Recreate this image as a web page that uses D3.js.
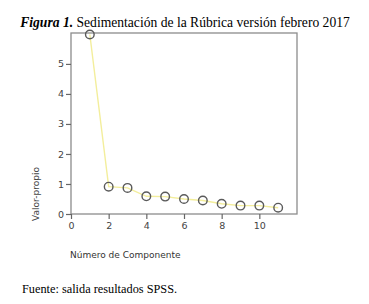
<!DOCTYPE html>
<html>
<head>
<meta charset="utf-8">
<script src="https://cdn.jsdelivr.net/npm/d3@7"></script>
<style>
  body { margin: 0; background: #fff; }
  svg { display: block; }
</style>
</head>
<body>
<svg id="chart" width="369" height="304"></svg>
<script>
// scree plot data (eigenvalues per component)
const componentes = [1, 2, 3, 4, 5, 6, 7, 8, 9, 10, 11];
const valoresPropios = [5.98, 0.91, 0.87, 0.59, 0.58, 0.5, 0.45, 0.34, 0.28, 0.28, 0.21];
const xTicks = [0, 2, 4, 6, 8, 10];
const yTicks = [0, 1, 2, 3, 4, 5];

const svg = d3.select("#chart");
const box = { left: 71, top: 33, right: 297, bottom: 214 };

const x = d3.scaleLinear().domain([0, 12]).range([box.left, box.right]);
const y = d3.scaleLinear().domain([0, 6.03]).range([box.bottom, box.top]);

// title
const title = svg.append("text")
  .attr("x", 185).attr("y", 27)
  .attr("text-anchor", "middle")
  .style("font-family", "Liberation Serif")
  .style("font-size", "13.6px")
  .style("fill", "#000");
title.append("tspan").style("font-weight", "bold").style("font-style", "italic").text("Figura 1.");
title.append("tspan").text(" Sedimentación de la Rúbrica versión febrero 2017");

// plot frame
svg.append("rect")
  .attr("x", box.left).attr("y", box.top)
  .attr("width", box.right - box.left).attr("height", box.bottom - box.top)
  .style("fill", "none")
  .style("stroke", "#8c8c8c")
  .style("stroke-width", 1.3);

const xAxis = svg.append("g")
  .attr("transform", `translate(0,${box.bottom})`)
  .call(d3.axisBottom(x).tickValues(xTicks).tickSize(5).tickPadding(3).tickFormat(d3.format("d")));
const yAxis = svg.append("g")
  .attr("transform", `translate(${box.left},0)`)
  .call(d3.axisLeft(y).tickValues(yTicks).tickSize(5).tickPadding(2).tickFormat(d3.format("d")));

[xAxis, yAxis].forEach(a => {
  a.select(".domain").remove();
  a.selectAll("line").style("stroke", "#666").style("stroke-width", 1.2);
  a.selectAll("text")
    .style("font-family", "DejaVu Sans")
    .style("font-size", "9.5px")
    .style("fill", "#444");
});

// line + markers
const line = d3.line()
  .x((d, i) => x(componentes[i]))
  .y(d => y(d));

svg.append("path")
  .datum(valoresPropios)
  .attr("d", line)
  .style("fill", "none")
  .style("stroke", "#f3ee9c")
  .style("stroke-width", 1.4);

svg.selectAll("circle.pt")
  .data(valoresPropios)
  .join("circle")
  .attr("class", "pt")
  .attr("cx", (d, i) => x(componentes[i]))
  .attr("cy", d => y(d))
  .attr("r", 4.3)
  .style("fill", "none")
  .style("stroke", "#5a5a5a")
  .style("stroke-width", 1.4);

// axis titles
svg.append("text")
  .attr("transform", "translate(39,194) rotate(-90)")
  .attr("text-anchor", "middle")
  .style("font-family", "DejaVu Sans")
  .style("font-size", "9px")
  .style("fill", "#444")
  .text("Valor-propio");

svg.append("text")
  .attr("x", 70).attr("y", 258)
  .style("font-family", "DejaVu Sans")
  .style("font-size", "9px")
  .style("fill", "#333")
  .text("Número de Componente");

// source note
svg.append("text")
  .attr("x", 22).attr("y", 293)
  .style("font-family", "Liberation Serif")
  .style("font-size", "12.3px")
  .style("fill", "#000")
  .text("Fuente: salida resultados SPSS.");
</script>
</body>
</html>
